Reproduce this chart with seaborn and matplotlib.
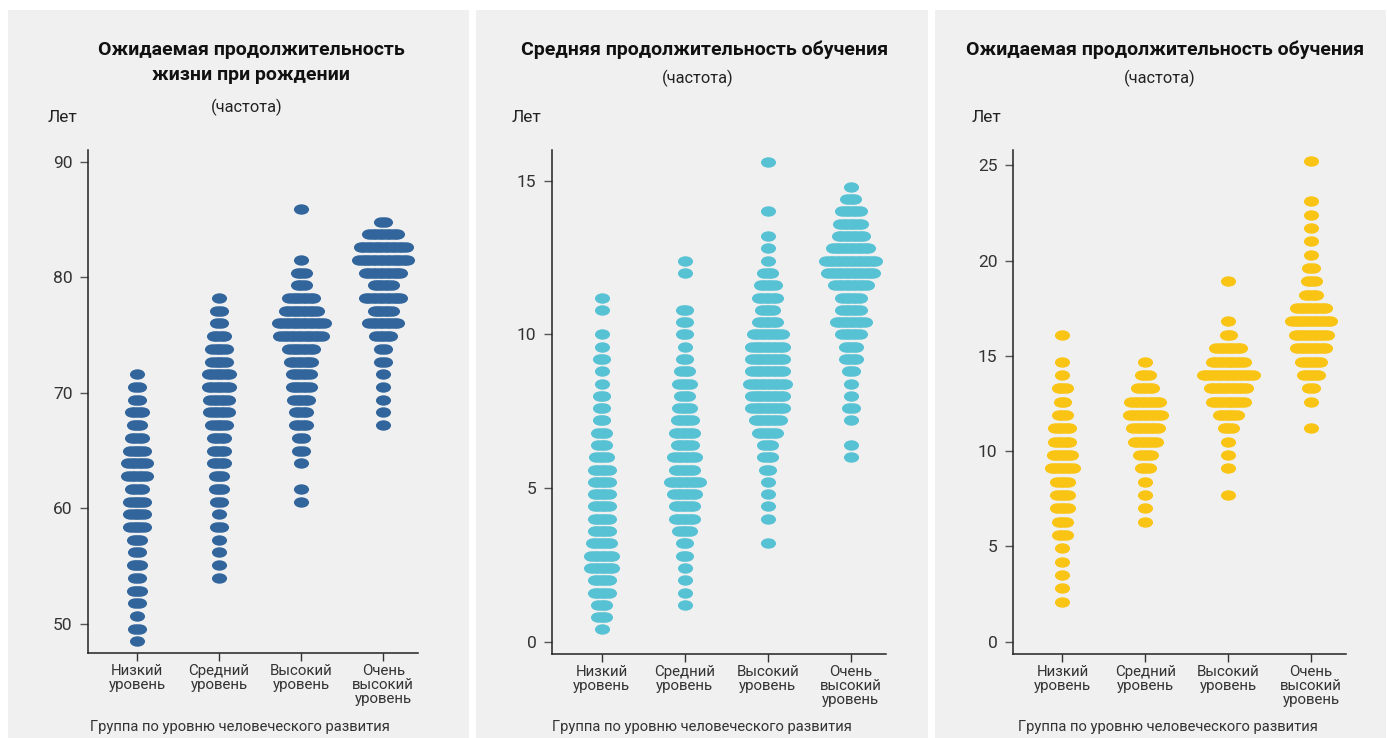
import matplotlib
matplotlib.use("Agg")
import matplotlib.pyplot as plt
from matplotlib.path import Path
from matplotlib.transforms import Affine2D
from matplotlib.patches import Rectangle
import pandas as pd
import seaborn as sns

# HDI groups (x categories)
groups = ["Низкий\nуровень", "Средний\nуровень", "Высокий\nуровень", "Очень\nвысокий\nуровень"]

# Panel 1: life expectancy at birth, row values and number of countries per row
life_rows = [48.5, 49.6, 50.7, 51.8, 52.9, 54.0, 55.1, 56.2, 57.3, 58.4,
             59.5, 60.6, 61.7, 62.8, 63.9, 65.0, 66.1, 67.2, 68.3, 69.4,
             70.5, 71.6, 72.7, 73.8, 74.9, 76.0, 77.1, 78.2, 79.3, 80.4,
             81.5, 82.6, 83.7, 84.8, 85.9]
life_low = [1, 2, 1, 2, 3, 2, 3, 2, 3, 5, 5, 5, 4, 6, 6, 5, 4, 3, 4, 2,
            2, 1, 0, 0, 0, 0, 0, 0, 0, 0, 0, 0, 0, 0, 0]
life_mid = [0, 0, 0, 0, 0, 1, 1, 1, 1, 2, 1, 2, 3, 3, 4, 4, 4, 5, 6, 6,
            7, 7, 5, 5, 4, 2, 2, 1, 0, 0, 0, 0, 0, 0, 0]
life_high = [0, 0, 0, 0, 0, 0, 0, 0, 0, 0, 0, 1, 1, 0, 1, 2, 2, 4, 4, 5,
             6, 6, 7, 8, 13, 14, 10, 8, 3, 3, 1, 0, 0, 0, 1]
life_vhigh = [0, 0, 0, 0, 0, 0, 0, 0, 0, 0, 0, 0, 0, 0, 0, 0, 0, 1, 1, 1,
              1, 1, 2, 2, 5, 9, 6, 11, 6, 11, 15, 14, 9, 2, 0]

# Panel 2: mean years of schooling
school_rows = [0.4, 0.8, 1.2, 1.6, 2.0, 2.4, 2.8, 3.2, 3.6, 4.0,
               4.4, 4.8, 5.2, 5.6, 6.0, 6.4, 6.8, 7.2, 7.6, 8.0,
               8.4, 8.8, 9.2, 9.6, 10.0, 10.4, 10.8, 11.2, 11.6, 12.0,
               12.4, 12.8, 13.2, 13.6, 14.0, 14.4, 14.8, 15.2, 15.6]
school_low = [1, 3, 3, 5, 5, 7, 7, 6, 5, 5, 5, 5, 5, 5, 4, 3, 3, 2, 2, 2,
              1, 1, 2, 1, 1, 0, 1, 1, 0, 0, 0, 0, 0, 0, 0, 0, 0, 0, 0]
school_mid = [0, 0, 1, 1, 1, 1, 2, 2, 4, 6, 6, 7, 9, 6, 7, 5, 6, 5, 4, 3,
              4, 3, 2, 1, 2, 2, 2, 0, 0, 1, 1, 0, 0, 0, 0, 0, 0, 0, 0]
school_high = [0, 0, 0, 0, 0, 0, 0, 1, 0, 1, 1, 1, 1, 2, 3, 3, 6, 8, 10, 10,
               11, 10, 10, 10, 9, 6, 4, 6, 5, 3, 1, 1, 1, 0, 1, 0, 0, 0, 1]
school_vhigh = [0, 0, 0, 0, 0, 0, 0, 0, 0, 0, 0, 0, 0, 0, 1, 1, 0, 1, 2, 1,
                1, 2, 4, 4, 6, 9, 6, 6, 10, 14, 15, 11, 8, 7, 6, 3, 1, 0, 0]

# Panel 3: expected years of schooling
exp_rows = [2.1, 2.8, 3.5, 4.2, 4.9, 5.6, 6.3, 7.0, 7.7, 8.4,
            9.1, 9.8, 10.5, 11.2, 11.9, 12.6, 13.3, 14.0, 14.7, 15.4,
            16.1, 16.8, 17.5, 18.2, 18.9, 19.6, 20.3, 21.0, 21.7, 22.4,
            23.1, 23.8, 24.5, 25.2]
exp_low = [1, 1, 1, 1, 1, 3, 3, 4, 4, 4, 7, 6, 5, 5, 3, 2, 3, 1, 1, 0,
           1, 0, 0, 0, 0, 0, 0, 0, 0, 0, 0, 0, 0, 0]
exp_mid = [0, 0, 0, 0, 0, 0, 1, 1, 1, 1, 3, 4, 7, 8, 10, 9, 5, 3, 1, 0,
           0, 0, 0, 0, 0, 0, 0, 0, 0, 0, 0, 0, 0, 0]
exp_high = [0, 0, 0, 0, 0, 0, 0, 0, 1, 0, 1, 1, 1, 3, 6, 10, 11, 15, 10, 8,
            2, 1, 0, 0, 1, 0, 0, 0, 0, 0, 0, 0, 0, 0]
exp_vhigh = [0, 0, 0, 0, 0, 0, 0, 0, 0, 0, 0, 0, 0, 1, 0, 1, 2, 5, 6, 9,
             10, 12, 9, 4, 3, 2, 1, 1, 1, 1, 1, 0, 0, 1]

W, H = 1387, 738
STEP = 0.042  # horizontal offset between stacked dots (x units)

sns.set_style("white")
plt.rcParams['font.family'] = ['Roboto', 'DejaVu Sans']

# horizontally stretched dot
ellipse = Path.unit_circle().transformed(Affine2D().scale(1.45, 1.0))


def fx(x):
    return x / W


def fy(y):
    return 1 - y / H


def build_points(rows, counts_list):
    xs, ys = [], []
    for g, counts in enumerate(counts_list):
        for val, n in zip(rows, counts):
            for j in range(n):
                xs.append(g + (j - (n - 1) / 2) * STEP)
                ys.append(val)
    return pd.DataFrame({"x": xs, "y": ys})


def draw_panel(box, rows, counts_list, color, ylim, yticks):
    left, right, top, bottom = box
    ax = fig.add_axes([fx(left), fy(bottom), fx(right - left), (bottom - top) / H])
    ax.patch.set_visible(False)
    df = build_points(rows, counts_list)
    sns.scatterplot(data=df, x="x", y="y", marker=ellipse, s=118,
                    color=color, linewidth=0, ax=ax, zorder=3)
    ax.set_xlim(-0.6, 3.42)
    ax.set_ylim(*ylim)
    ax.set_yticks(yticks)
    ax.set_yticklabels([str(t) for t in yticks])
    ax.set_xticks(range(len(groups)))
    ax.set_xticklabels(groups, linespacing=1.0)
    ax.set_xlabel("")
    ax.set_ylabel("")
    for side in ["top", "right"]:
        ax.spines[side].set_visible(False)
    for side in ["left", "bottom"]:
        ax.spines[side].set_color("#222222")
        ax.spines[side].set_linewidth(1.1)
    ax.tick_params(axis="y", length=6, width=1, color="#555555", pad=5,
                   labelsize=12.5, labelcolor="#333333")
    ax.tick_params(axis="x", length=6, width=1, color="#333333", pad=2,
                   labelsize=10.8, labelcolor="#333333")
    ax.tick_params(left=True, bottom=True)
    return ax


fig = plt.figure(figsize=(W / 100, H / 100), dpi=100)
fig.patch.set_facecolor("white")

# grey panel backgrounds
for x0, x1 in [(8, 469), (476, 928), (935, 1386)]:
    fig.add_artist(Rectangle((fx(x0), 0), fx(x1 - x0), fy(10), transform=fig.transFigure,
                             facecolor="#f0f0f0", edgecolor="none", zorder=-10))

draw_panel((87.7, 417.7, 150, 653), life_rows,
           [life_low, life_mid, life_high, life_vhigh], "#31659c",
           (47.5, 91.0), [50, 60, 70, 80, 90])
draw_panel((551.7, 885.7, 150, 654), school_rows,
           [school_low, school_mid, school_high, school_vhigh], "#56c2d3",
           (-0.4, 16.0), [0, 5, 10, 15])
draw_panel((1012.7, 1346, 150, 654), exp_rows,
           [exp_low, exp_mid, exp_high, exp_vhigh], "#f9c413",
           (-0.65, 25.8), [0, 5, 10, 15, 20, 25])

title_kw = dict(ha="center", va="center", fontsize=14, fontweight="bold", color="#111111")
sub_kw = dict(ha="center", va="center", fontsize=11.8, color="#222222")

fig.text(fx(251), fy(50), "Ожидаемая продолжительность", **title_kw)
fig.text(fx(251), fy(75), "жизни при рождении", **title_kw)
fig.text(fx(247), fy(107), "(частота)", **sub_kw)

fig.text(fx(705), fy(50), "Средняя продолжительность обучения", **title_kw)
fig.text(fx(698), fy(78), "(частота)", **sub_kw)

fig.text(fx(1165), fy(50), "Ожидаемая продолжительность обучения", **title_kw)
fig.text(fx(1160), fy(78), "(частота)", **sub_kw)

for xl in [48, 512, 972]:
    fig.text(fx(xl), fy(117), "Лет", ha="left", va="center", fontsize=12.5, color="#222222")

for xl in [90, 552, 1018]:
    fig.text(fx(xl), fy(727), "Группа по уровню человеческого развития",
             ha="left", va="center", fontsize=10.6, color="#333333")

fig.savefig("out.png", dpi=100)
